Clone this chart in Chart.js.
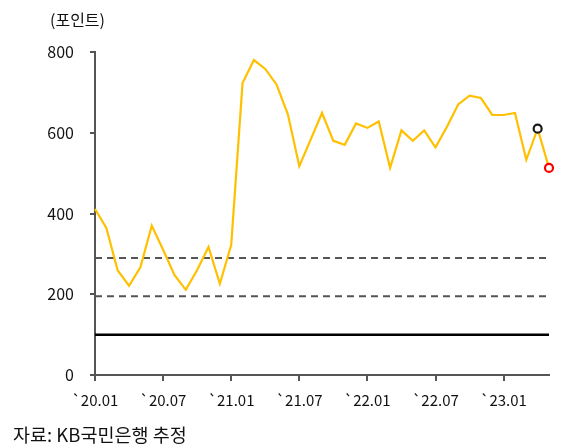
<!DOCTYPE html>
<html>
<head>
<meta charset="utf-8">
<script src="https://cdn.jsdelivr.net/npm/chart.js@4/dist/chart.umd.min.js"></script>
<style>
  html, body { margin: 0; padding: 0; background: #fff; }
  #wrap { position: relative; width: 577px; height: 448px; overflow: hidden; }
  #c { position: absolute; left: 0; top: 0; }
  .txt { position: absolute; font-family: "Noto Sans CJK KR", "Noto Sans", sans-serif; color: #111; white-space: nowrap; line-height: 1; }
</style>
</head>
<body>
<div id="wrap">
  <canvas id="c" width="577" height="448"></canvas>
  <div class="txt" id="unit" style="left:50px; top:11px; font-size:16px;">(포인트)</div>
  <div class="txt" id="src" style="left:13px; top:425px; font-size:18.5px;">자료: KB국민은행 추정</div>
</div>
<script>
const months = [
  "`20.01","`20.02","`20.03","`20.04","`20.05","`20.06","`20.07","`20.08","`20.09","`20.10","`20.11","`20.12",
  "`21.01","`21.02","`21.03","`21.04","`21.05","`21.06","`21.07","`21.08","`21.09","`21.10","`21.11","`21.12",
  "`22.01","`22.02","`22.03","`22.04","`22.05","`22.06","`22.07","`22.08","`22.09","`22.10","`22.11","`22.12",
  "`23.01","`23.02","`23.03","`23.04","`23.05"
];
const tickLabels = ["`20.01","`20.07","`21.01","`21.07","`22.01","`22.07","`23.01"];
const indexValues = [
  411, 364, 259, 221, 267, 370, 310, 248, 211, 260, 317, 226,
  322, 723, 780, 758, 719, 645, 517, 583, 649, 580, 570, 623,
  612, 628, 513, 606, 580, 606, 564, 614, 670, 692, 686, 644,
  644, 649, 533, 610, 513
];
const upperLevel = 290;
const lowerLevel = 195;
const baseLevel = 100;
const yTicks = [0, 200, 400, 600, 800];
const highlightBlack = 39;
const highlightRed = 40;

const flat = v => months.map(() => v);

new Chart(document.getElementById('c'), {
  type: 'line',
  data: {
    labels: months,
    datasets: [
      { data: indexValues, borderColor: '#FFC000', borderWidth: 2.2, tension: 0,
        pointRadius: ctx => (ctx.dataIndex === highlightBlack || ctx.dataIndex === highlightRed) ? 4 : 0,
        pointBorderWidth: 2.2,
        pointBackgroundColor: '#ffffff',
        pointBorderColor: ctx => ctx.dataIndex === highlightRed ? '#FF0000' : '#1a1a1a',
        order: 0 },
      { data: flat(upperLevel), borderColor: '#555555', borderWidth: 2, borderDash: [7, 5], pointRadius: 0, order: 1 },
      { data: flat(lowerLevel), borderColor: '#555555', borderWidth: 2, borderDash: [7, 5], pointRadius: 0, order: 1 },
      { data: flat(baseLevel), borderColor: '#000000', borderWidth: 2.5, pointRadius: 0, order: 1 }
    ]
  },
  options: {
    responsive: false,
    animation: false,
    events: [],
    layout: { padding: { left: 0, right: 28, top: 52, bottom: 0 } },
    plugins: { legend: { display: false }, tooltip: { enabled: false }, title: { display: false } },
    scales: {
      x: {
        type: 'category',
        offset: false,
        afterFit: s => { s.height = 73; },
        border: { display: true, color: '#555555', width: 2 },
        grid: {
          drawOnChartArea: false, drawTicks: true, tickLength: 6, lineWidth: 2,
          color: ctx => (tickLabels.includes(months[ctx.index]) ? '#555555' : 'rgba(0,0,0,0)'),
          tickColor: ctx => (tickLabels.includes(months[ctx.index]) ? '#555555' : 'rgba(0,0,0,0)')
        },
        ticks: {
          autoSkip: false, maxRotation: 0, minRotation: 0, padding: 10,
          color: '#111',
          font: { family: '"Noto Sans CJK KR", "Noto Sans", sans-serif', size: 15 },
          callback: (v, i) => tickLabels.includes(months[i]) ? months[i] : ''
        }
      },
      y: {
        min: 0, max: 800,
        afterFit: s => { s.width = 95; },
        afterBuildTicks: s => { s.ticks = yTicks.map(v => ({ value: v })); },
        border: { display: true, color: '#555555', width: 2 },
        grid: { drawOnChartArea: false, drawTicks: true, tickLength: 5, lineWidth: 2, color: '#555555' },
        ticks: {
          padding: 16, color: '#111',
          font: { family: '"Noto Sans CJK KR", "Noto Sans", sans-serif', size: 16 }
        }
      }
    }
  }
});
</script>
</body>
</html>
